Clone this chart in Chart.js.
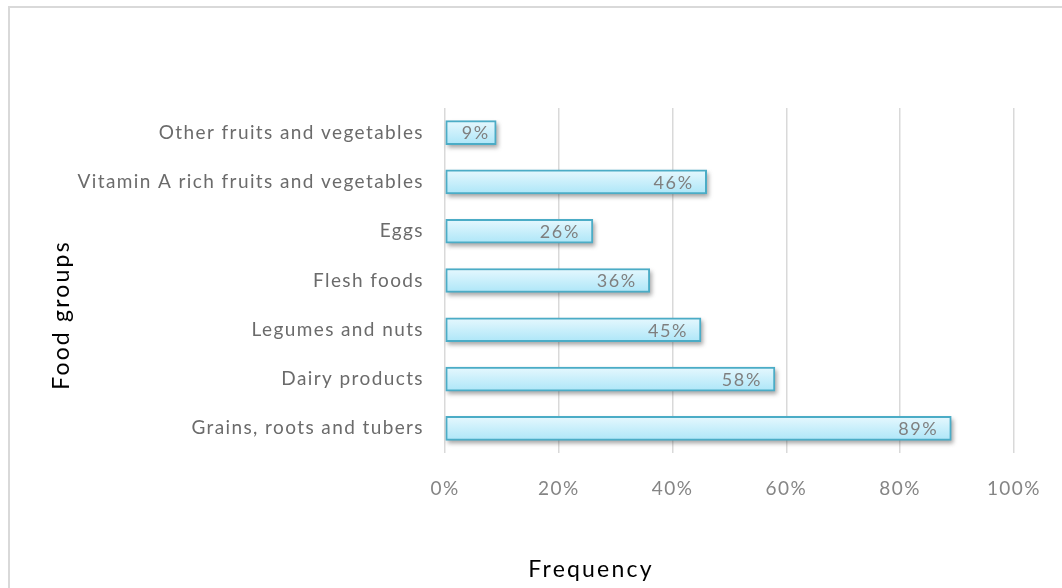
<!DOCTYPE html>
<html>
<head>
<meta charset="utf-8">
<script src="https://cdn.jsdelivr.net/npm/chart.js@4/dist/chart.umd.min.js"></script>
<style>
  html, body { margin: 0; padding: 0; background: #ffffff; }
  #wrap { position: relative; width: 1062px; height: 588px; }
</style>
</head>
<body>
<div id="wrap"><canvas id="chart" width="1062" height="588"></canvas></div>
<script>
// Food groups consumed and how often (percent of respondents)
const categories = [
  'Other fruits and vegetables',
  'Vitamin A rich fruits and vegetables',
  'Eggs',
  'Flesh foods',
  'Legumes and nuts',
  'Dairy products',
  'Grains, roots and tubers'
];
const frequency = [9, 46, 26, 36, 45, 58, 89];
const xTickValues = [0, 20, 40, 60, 80, 100];
const xTitle = 'Frequency';
const yTitle = 'Food groups';

const FONT = 'Lato, "Open Sans", sans-serif';
const BAR_THICKNESS = 24;
const TEXT_SPACING = '1.4px';

// Light cyan vertical gradient for each bar, built around its category row
function barGradient(c) {
  const chart = c.chart;
  const yScale = chart.scales.y;
  const cy = yScale ? yScale.getPixelForValue(c.dataIndex) : NaN;
  if (!isFinite(cy)) return '#c8effb';
  const g = chart.ctx.createLinearGradient(0, cy - BAR_THICKNESS / 2, 0, cy + BAR_THICKNESS / 2);
  g.addColorStop(0, '#e6f8fe');
  g.addColorStop(1, '#ade6f8');
  return g;
}

// Thin grey frame along the top and left of the figure; wider text tracking
const framePlugin = {
  id: 'frame',
  beforeDraw(chart) {
    const ctx = chart.ctx;
    ctx.save();
    ctx.fillStyle = '#ffffff';
    ctx.fillRect(0, 0, chart.width, chart.height);
    ctx.fillStyle = '#d9d9d9';
    ctx.fillRect(8, 6, chart.width - 8, 2);
    ctx.fillRect(8, 6, 2, chart.height - 6);
    ctx.restore();
    ctx.letterSpacing = TEXT_SPACING;
  },
  afterDraw(chart) {
    chart.ctx.letterSpacing = '0px';
  }
};

// Soft drop shadow beneath each bar
const barShadowPlugin = {
  id: 'barShadow',
  beforeDatasetsDraw(chart) {
    const ctx = chart.ctx;
    const meta = chart.getDatasetMeta(0);
    ctx.save();
    ctx.fillStyle = 'rgba(60,60,60,0.45)';
    ctx.filter = 'blur(2px)';
    meta.data.forEach(el => {
      const { x, y, base, height } = el.getProps(['x', 'y', 'base', 'height'], true);
      const left = Math.min(x, base);
      const w = Math.abs(x - base);
      ctx.fillRect(left + 2, y - height / 2 + 3, w, height);
    });
    ctx.restore();
  }
};

// Value labels placed inside the end of each bar
const valueLabelPlugin = {
  id: 'valueLabels',
  afterDatasetsDraw(chart) {
    const ctx = chart.ctx;
    const meta = chart.getDatasetMeta(0);
    ctx.save();
    ctx.letterSpacing = '1.6px';
    ctx.font = '18px ' + FONT;
    ctx.fillStyle = '#7f7f7f';
    ctx.textAlign = 'right';
    ctx.textBaseline = 'middle';
    meta.data.forEach((el, i) => {
      const { x, y, base } = el.getProps(['x', 'y', 'base'], true);
      const text = frequency[i] + '%';
      const w = ctx.measureText(text).width;
      const tx = Math.max(x - 13, base + w + 16);
      ctx.fillText(text, tx, y + 1);
    });
    ctx.restore();
  }
};

// Axis titles: "Frequency" under the figure, "Food groups" rotated at the left
const axisTitlePlugin = {
  id: 'axisTitles',
  afterDraw(chart) {
    const ctx = chart.ctx;
    ctx.save();
    ctx.letterSpacing = '2.2px';
    ctx.font = '23px ' + FONT;
    ctx.fillStyle = '#000000';
    ctx.textAlign = 'center';
    ctx.textBaseline = 'middle';
    ctx.fillText(xTitle, 591, 570);
    ctx.translate(62, 315);
    ctx.rotate(-Math.PI / 2);
    ctx.fillText(yTitle, 0, 0);
    ctx.restore();
  }
};

new Chart(document.getElementById('chart'), {
  type: 'bar',
  data: {
    labels: categories,
    datasets: [{
      data: frequency,
      backgroundColor: barGradient,
      borderColor: '#4bacc6',
      borderWidth: 2,
      borderSkipped: false,
      barThickness: BAR_THICKNESS
    }]
  },
  options: {
    indexAxis: 'y',
    responsive: false,
    animation: false,
    events: [],
    layout: { padding: { top: 108, right: 48, bottom: 0, left: 45 } },
    plugins: {
      legend: { display: false },
      tooltip: { enabled: false }
    },
    scales: {
      x: {
        min: 0,
        max: 100,
        afterBuildTicks(scale) {
          scale.ticks = xTickValues.map(v => ({ value: v }));
        },
        afterFit(scale) { scale.height = 135; },
        grid: { color: '#d9d9d9', lineWidth: 1.5, drawTicks: false },
        border: { display: false },
        ticks: {
          padding: 24,
          color: '#858585',
          font: { family: FONT, size: 19 },
          callback: v => v + '%'
        },
        title: { display: false }
      },
      y: {
        afterFit(scale) { scale.width = 400; },
        grid: { display: false, drawTicks: false },
        border: { display: false },
        ticks: {
          padding: 21,
          color: '#6b6b6b',
          font: { family: FONT, size: 19 }
        },
        title: { display: false }
      }
    }
  },
  plugins: [framePlugin, barShadowPlugin, valueLabelPlugin, axisTitlePlugin]
});
</script>
</body>
</html>
